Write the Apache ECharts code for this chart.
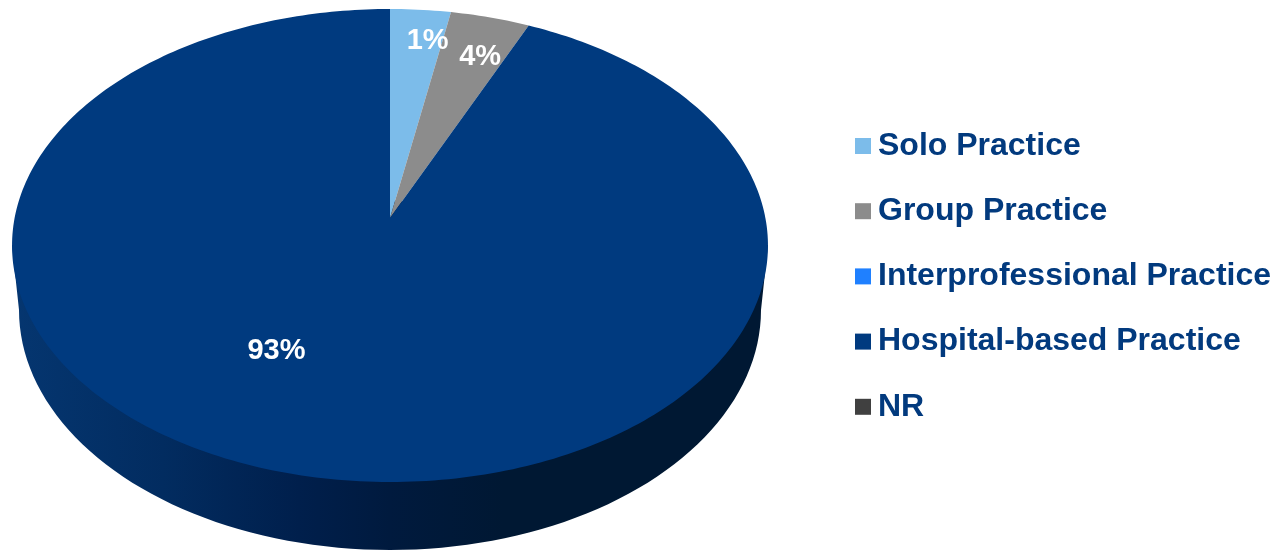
<!DOCTYPE html>
<html><head><meta charset="utf-8">
<style>html,body{margin:0;padding:0;background:#fff}#c{width:1276px;height:551px}</style>
<script src="https://cdn.jsdelivr.net/npm/echarts@6/dist/echarts.min.js"></script>
</head><body><div id="c"></div>
<script>
// Data (slice sizes follow the drawn angles; labels are the printed ones)
const categories = ['Solo Practice','Group Practice','Interprofessional Practice','Hospital-based Practice','NR'];
const sliceValues = [2.9, 3.8, 0, 93.3, 0];
const sliceLabels = ['1%', '4%', '', '93%', ''];
const sliceColors = ['#7CBCEA','#8C8C8C','#1F80FF','#003A7F','#404040'];

// Perspective disc projection (styling / layout of the 3D pie)
const P = {cx:390, cy:218, R:375.4, a:-207.95, c:0.1163};
function project(deg, r){
  const t = deg*Math.PI/180, u = r*Math.sin(t), s = r*Math.cos(t), d = 1+P.c*s;
  return [P.cx + P.R*u/d, (P.a*s + P.cy)/d];
}
// [radius fraction, angle nudge] of each printed label relative to its slice middle
const labelPlace = [[0.84,2.3],[0.795,1.9],[0,0],[0.605,15.9],[0,0]];
const total = sliceValues.reduce((a,b)=>a+b,0);
function startAngle(i){ let v=0; for(let k=0;k<i;k++) v+=sliceValues[k]; return v/total*360; }

function sliceRender(i){
  return function(params, api){
    const v = api.value(0);
    if(!v) return null;
    const a0 = startAngle(i), a1 = a0 + v/total*360;
    const pts = [project(0,0)];
    const n = Math.max(2, Math.ceil(a1-a0));
    for(let k=0;k<=n;k++) pts.push(project(a0+(a1-a0)*k/n,1));
    const mid = (a0+a1)/2, lp = labelPlace[i];
    const at = project(mid+lp[1], lp[0]);
    return {type:'group', children:[
      {type:'polygon', z2:1, shape:{points:pts}, style:{fill:sliceColors[i]}},
      {type:'text', z2:100, x:at[0], y:at[1], style:{text:sliceLabels[i], fill:'#fff',
        font:'bold 29px "Liberation Sans", Arial, sans-serif', align:'center', verticalAlign:'middle'}}
    ]};
  };
}
function wallRender(){
  const pts = [[768,245]];
  for(let d=0;d<=180;d+=2){
    const t=d*Math.PI/180;
    pts.push([390+371*Math.cos(t), 310+240*Math.sin(t)]);
  }
  pts.push([12,245]);
  // upper part hidden under the top face
  pts.push([390,200]);
  return {type:'polygon', shape:{points:pts}, style:{
    fill:new echarts.graphic.LinearGradient(0,0,1,0,[
      {offset:0,color:'#053670'},{offset:0.2,color:'#022C60'},{offset:0.38,color:'#001F4C'},
      {offset:0.5,color:'#001A3E'},{offset:0.65,color:'#001833'},{offset:1,color:'#001833'}])}};
}

const series = [{name:'side', type:'custom', coordinateSystem:'none', z:1, silent:true,
  data:[[total]], renderItem:wallRender}];
categories.forEach((name,i)=>series.push({
  name, type:'custom', coordinateSystem:'none', z:2, itemStyle:{color:sliceColors[i]},
  data:[[sliceValues[i]]], renderItem:sliceRender(i)
}));

const chart = echarts.init(document.getElementById('c'), null, {renderer:'canvas'});
chart.setOption({
  animation:false,
  backgroundColor:'#fff',
  tooltip:{show:false},
  legend:{
    data:categories, orient:'vertical', left:855, top:124, padding:0,
    itemWidth:16, itemHeight:16, itemGap:21.2, icon:'rect', selectedMode:false,
    textStyle:{color:'#023A7E', fontFamily:'"Liberation Sans", Arial, sans-serif', fontWeight:'bold',
      fontSize:32, lineHeight:38, padding:[6,0,0,2]}
  },
  series
});
</script></body></html>
